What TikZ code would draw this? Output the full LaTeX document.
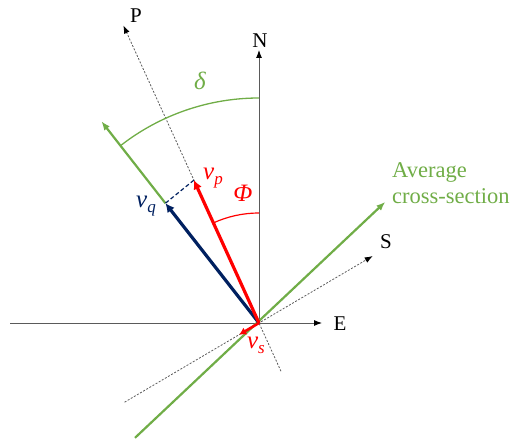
\documentclass[tikz,border=0pt]{standalone}
\usepackage{fontspec}
\setmainfont{Liberation Serif}
\usetikzlibrary{arrows.meta,calc}
\definecolor{ogreen}{RGB}{112,173,71}
\definecolor{onavy}{RGB}{0,32,96}
\definecolor{ored}{RGB}{255,0,0}
\definecolor{axgray}{RGB}{90,90,90}
\newcommand{\vsub}[1]{\textit{v}\raisebox{-5pt}{\fontsize{17}{17}\selectfont\textit{#1}}}
\begin{document}
\begin{tikzpicture}[x=1pt,y=1pt,
  axis/.style={draw=axgray,line width=0.9pt,-{Latex[length=8pt,width=6pt,color=black]}},
  dotln/.style={draw=axgray,line width=0.8pt,dash pattern=on 2pt off 1.6pt,-{Latex[length=8pt,width=6pt,color=black]}},
  lbl/.style={font=\fontsize{21}{25}\selectfont,inner sep=0pt},
  mlbl/.style={font=\fontsize{25}{28}\selectfont,inner sep=0pt}]
\useasboundingbox (0,-443) rectangle (513,0);
\coordinate (O) at (259,-323);
% axes
\coordinate (Ntip) at ($(O)+(90:273)$);
\coordinate (Etip) at (322,-323);
\coordinate (Wend) at (10,-323);
\draw[axis] (O) -- (Ntip);
\draw[axis] (Wend) -- (Etip);
\node[lbl] (N) at (260,-41) {N};
\node[lbl] (E) at (340,-324) {E};
% P and S dotted
\coordinate (Ptip) at ($(O)+(114.5:327)$);
\coordinate (Pend) at ($(O)+(-65.5:53)$);
\draw[dotln] (Pend) -- (Ptip);
\node[lbl] (P) at (136,-16) {P};
\coordinate (Stip) at ($(O)+(30.5:132)$);
\coordinate (Send) at ($(O)+(210.5:156)$);
\draw[dotln] (Send) -- (Stip);
\node[lbl] (S) at (386,-242) {S};
% average cross-section
\coordinate (Gtip) at ($(O)+(43.8:175)$);
\coordinate (Gend) at ($(O)+(222.8:169)$);
\draw[ogreen,line width=2.2pt,-{Latex[length=9pt,width=7pt]}] (Gend) -- (Gtip);
\node[lbl,text=ogreen,align=left,anchor=north west,font=\fontsize{22.5}{26}\selectfont] (avg) at (392,-162) {Average\\cross-section};
% vectors
\coordinate (Vq) at ($(O)+(128:152)$);
\coordinate (Vp) at ($(O)+(114.5:157)$);
\coordinate (Gq) at ($(O)+(128:256)$);
\draw[ogreen,line width=2.2pt,-{Latex[length=9pt,width=7pt]}] (Vq) -- (Gq);
\draw[ogreen,line width=1.3pt] ($(O)+(90:225)$) arc[start angle=90,end angle=128,radius=225];
\node[mlbl,text=ogreen] (delta) at (200,-81) {\textit{δ}};
\draw[ored,line width=1.2pt] ($(O)+(90:110)$) arc[start angle=90,end angle=114.5,radius=110];
\node[mlbl,text=ored] (phi) at (243,-193) {\textit{Φ}};
\draw[onavy,line width=1.2pt,dash pattern=on 4pt off 2.5pt] (Vp) -- (Vq);
\draw[onavy,line width=3.2pt,-{Latex[length=9pt,width=9pt]}] (O) -- (Vq);
\draw[ored,line width=3.2pt,-{Latex[length=9pt,width=9pt]}] (O) -- (Vp);
\coordinate (Vs) at ($(O)+(210.5:23)$);
\draw[ored,line width=2.6pt,-{Latex[length=7pt,width=8pt]}] (O) -- (Vs);
\node[mlbl,text=ored] (vp) at (213,-178) {\vsub{p}};
\node[mlbl,text=onavy] (vq) at (146,-206) {\vsub{q}};
\node[mlbl,text=ored] (vs) at (256,-345) {\vsub{s}};
\end{tikzpicture}
\end{document}
